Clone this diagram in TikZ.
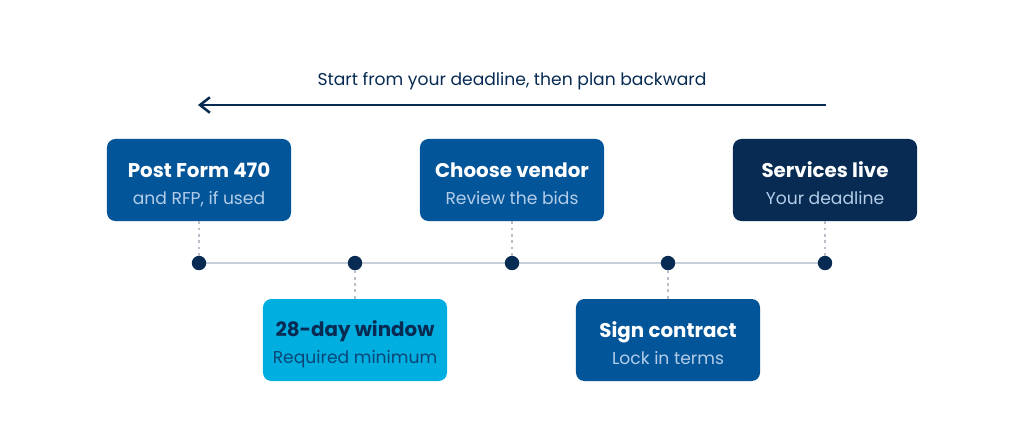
\documentclass[tikz,border=0pt]{standalone}
\usepackage{fontspec}
\setmainfont{Poppins}
\usetikzlibrary{arrows.meta}
\definecolor{navy}{HTML}{072B52}
\definecolor{midblue}{HTML}{03559A}
\definecolor{skyblue}{HTML}{00AEE0}
\definecolor{paleblue}{HTML}{B3CDE8}
\definecolor{deepsub}{HTML}{0B4677}
\definecolor{railgray}{HTML}{C8CFDB}
\tikzset{
  stepbox/.style={rounded corners=6pt, minimum width=4.6cm, minimum height=2.05cm,
    align=center, font=\fontsize{14.1}{19.2}\selectfont, text=white},
  dot/.style={circle, fill=navy, inner sep=0pt, minimum size=0.36cm},
  tick/.style={railgray!80!gray, line width=0.8pt, dash pattern=on 2pt off 2.5pt}
}
% title line and sub line with fixed struts
\newcommand{\toprow}[1]{\rule{0pt}{17.8pt}\textbf{#1}}
\newcommand{\sub}[2][paleblue]{{\fontsize{12.2}{19.2}\selectfont\color{#1}#2\rule[-2.85pt]{0pt}{2.85pt}}}
\begin{document}
\begin{tikzpicture}[x=0.025cm, y=-0.025cm]
  \useasboundingbox (0,0) rectangle (1024,437);

  % heading and backward arrow
  \node[text=navy, font=\fontsize{12.2}{14}\selectfont, anchor=base] (head) at (512,85) {Start from your deadline, then plan backward};
  \coordinate (arrR) at (826,105);
  \coordinate (arrL) at (198,105);
  \draw[navy, line width=1.8pt, -{Straight Barb[length=7pt, width=11pt, line width=1.8pt]}] (arrR) -- (arrL);

  % timeline
  \draw[railgray, line width=1.4pt] (199,263) -- (825,263);
  \foreach \x [count=\i] in {199,355,512,668,825}
    \node[dot] (d\i) at (\x,263) {};

  % boxes above the line
  \node[stepbox, fill=midblue] (post) at (199,180) {\toprow{Post Form 470}\\\sub{and RFP, if used}};
  \node[stepbox, fill=midblue] (vendor) at (512,180) {\toprow{Choose vendor}\\\sub{Review the bids}};
  \node[stepbox, fill=navy] (live) at (825,180) {\toprow{Services live}\\\sub{Your deadline}};

  % boxes below the line
  \node[stepbox, fill=skyblue, text=navy] (window) at (355,340) {\toprow{28-day window}\\\sub[deepsub]{Required minimum}};
  \node[stepbox, fill=midblue] (sign) at (668,340) {\toprow{Sign contract}\\\sub{Lock in terms}};

  % dotted ticks
  \draw[tick] (post.south) -- (d1);
  \draw[tick] (d2) -- (window.north);
  \draw[tick] (vendor.south) -- (d3);
  \draw[tick] (d4) -- (sign.north);
  \draw[tick] (live.south) -- (d5);
\end{tikzpicture}
\end{document}
